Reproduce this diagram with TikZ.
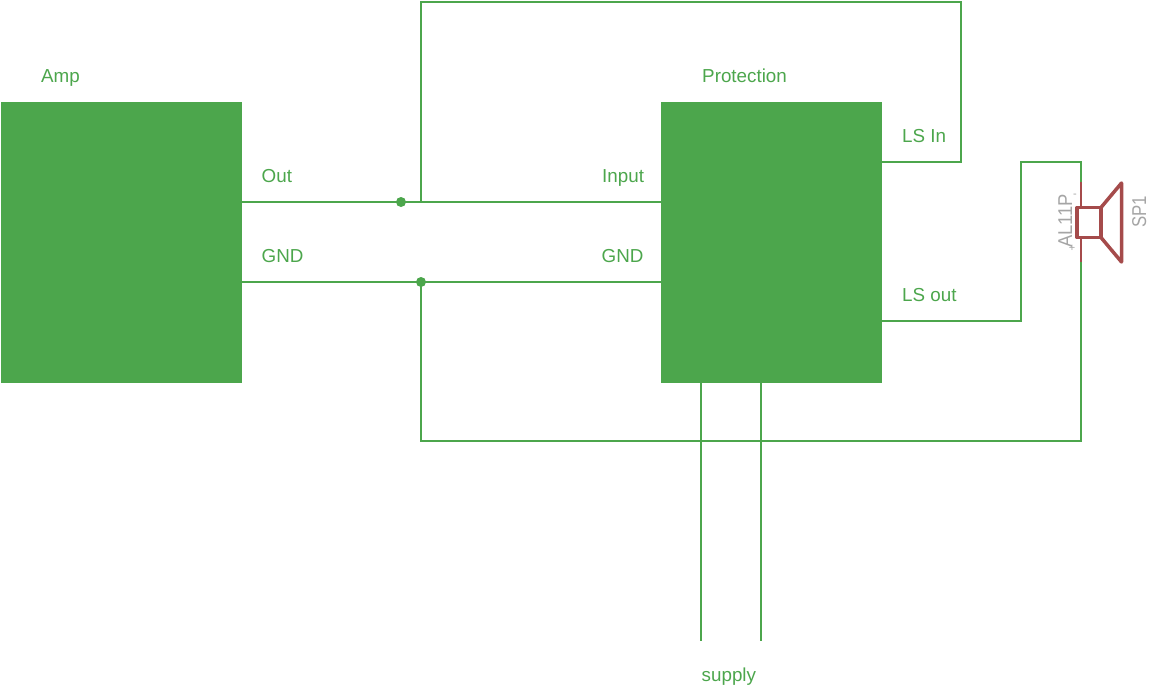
\documentclass[tikz,border=0pt]{standalone}
\usepackage{fontspec}
\setmainfont{Liberation Sans}
\definecolor{wirecol}{HTML}{4CA64C}
\definecolor{partcol}{HTML}{A54B4B}
\definecolor{namecol}{HTML}{A5A5A5}
\tikzset{
  block/.style={fill=wirecol,draw=none,rectangle,inner sep=0pt,anchor=north west},
  wire/.style={draw=wirecol,line width=2pt,line join=miter},
  partwire/.style={draw=partcol,line width=2pt},
  partbody/.style={draw=partcol,line width=3.5pt,line join=round,line cap=round},
  junction/.style={circle,fill=wirecol,inner sep=0pt,minimum size=10pt},
  netlabel/.style={text=wirecol,font=\fontsize{18.8pt}{20pt}\selectfont,anchor=base west,inner sep=0pt},
  partname/.style={text=namecol,font=\fontsize{20pt}{22pt}\selectfont,anchor=base west,inner sep=0pt,rotate=90},
  polarity/.style={text=namecol,font=\fontsize{11pt}{12pt}\selectfont,inner sep=0pt}
}
\begin{document}
\begin{tikzpicture}[x=1pt,y=-1pt]
\useasboundingbox (0,0) rectangle (1153,688);
% blocks
\node[block,minimum width=241pt,minimum height=281pt] (amp) at (1,102) {};
\node[block,minimum width=221pt,minimum height=281pt] (prot) at (661,102) {};
% named points
\coordinate (ampout) at (242,202);
\coordinate (ampgnd) at (242,282);
\coordinate (protin) at (661,202);
\coordinate (protgnd) at (661,282);
\coordinate (lsin) at (882,162);
\coordinate (lsout) at (882,321);
\coordinate (sup1) at (701,382);
\coordinate (sup2) at (761,382);
\coordinate (sup1end) at (701,641);
\coordinate (sup2end) at (761,641);
\coordinate (tap) at (421,202);
\coordinate (gndtap) at (421,282);
\coordinate (sptop) at (1081,182);
\coordinate (spbot) at (1081,262);
\coordinate (spa) at (1081,207);
\coordinate (spb) at (1081,237);
% wires
\draw[wire] (ampout) -- (protin);
\draw[wire] (ampgnd) -- (protgnd);
\draw[wire] (tap) -- (421,2) -- (961,2) -- (961,162) -- (lsin);
\draw[wire] (lsout) -- (1021,321) -- (1021,162) -- (1081,162) -- (sptop);
\draw[wire] (gndtap) -- (421,441) -- (1081,441) -- (spbot);
\draw[wire] (sup1) -- (sup1end);
\draw[wire] (sup2) -- (sup2end);
\node[junction] (j1) at (401,202) {};
\node[junction] (j2) at (gndtap) {};
% speaker
\draw[partwire] (sptop) -- (spa);
\draw[partwire] (spbot) -- (spb);
\draw[partbody] (1077,207.5) rectangle (1101,237.5);
\draw[partbody] (1101,207.5) -- (1121.5,183) -- (1121.5,262) -- (1101,237.5);
% labels
\node[netlabel] (lamp) at (41,82) {Amp};
\node[netlabel] (lprot) at (702,82) {Protection};
\node[netlabel] (lout) at (261.5,182) {Out};
\node[netlabel] (linput) at (602,182) {Input};
\node[netlabel] (lgnda) at (261.5,262) {GND};
\node[netlabel] (lgndb) at (601.5,262) {GND};
\node[netlabel] (llsin) at (902,142) {LS In};
\node[netlabel] (llsout) at (902,301) {LS out};
\node[netlabel] (lsup) at (701.5,681) {supply};
\node[partname] (nal) at (1072,248) {\scalebox{0.92}[1]{AL11P}};
\node[partname] (nsp) at (1146,228) {\scalebox{0.84}[1]{SP1}};
\node[polarity] (pplus) at (1072,248) {+};
\node[polarity] (pminus) at (1075,196) {-};
\end{tikzpicture}
\end{document}
